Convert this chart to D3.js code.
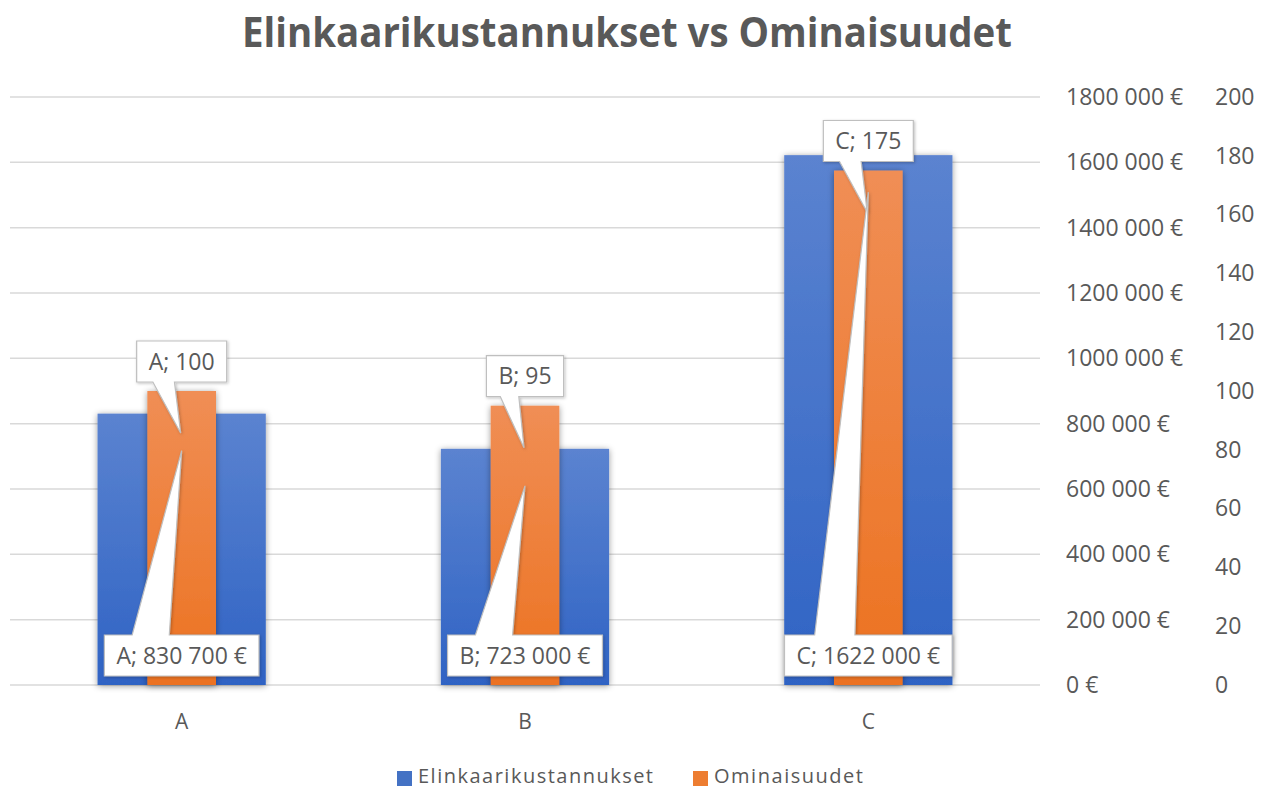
<!DOCTYPE html>
<html lang="fi">
<head>
<meta charset="UTF-8">
<title>Elinkaarikustannukset vs Ominaisuudet</title>
<style>
  body { margin: 0; background: #fff; }
  svg text { font-family: "Open Sans", "Noto Sans", sans-serif; fill: #595959; }
</style>
</head>
<body>
<svg id="chart" width="1268" height="789"></svg>
<script src="https://d3js.org/d3.v7.min.js"></script>
<script>
// data
var categories = ['A', 'B', 'C']
var costs = [830700, 723000, 1622000]        // Elinkaarikustannukset
var features = [100, 95, 175]                // Ominaisuudet
var costTicks = [0, 200000, 400000, 600000, 800000, 1000000, 1200000, 1400000, 1600000, 1800000]
var featureTicks = [0, 20, 40, 60, 80, 100, 120, 140, 160, 180, 200]
var seriesNames = ['Elinkaarikustannukset', 'Ominaisuudet']

var plot = {left: 10, right: 1040, top: 97, bottom: 685}

function fmtEur (v) {
  if (v === 0) return '0 €'
  var k = Math.floor(v / 1000), r = v % 1000
  return k + ' ' + String(r).padStart(3, '0') + ' €'
}

var svg = d3.select('#chart')
var defs = svg.append('defs')

function gradient (id, top, bottom) {
  var g = defs.append('linearGradient').attr('id', id)
    .attr('x1', 0).attr('y1', 0).attr('x2', 0).attr('y2', 1)
  g.append('stop').attr('offset', '0%').attr('stop-color', top)
  g.append('stop').attr('offset', '100%').attr('stop-color', bottom)
}
gradient('gBlue', '#5b83d0', '#2f63c4')
gradient('gOrange', '#f08e55', '#ec7220')

var sh = defs.append('filter').attr('id', 'shadow')
  .attr('x', '-20%').attr('y', '-20%').attr('width', '140%').attr('height', '140%')
sh.append('feDropShadow').attr('dx', 0).attr('dy', 1).attr('stdDeviation', 3)
  .attr('flood-color', '#000').attr('flood-opacity', 0.4)
var sh2 = defs.append('filter').attr('id', 'shadowSmall')
  .attr('x', '-10%').attr('y', '-20%').attr('width', '120%').attr('height', '150%')
sh2.append('feDropShadow').attr('dx', 1).attr('dy', 1).attr('stdDeviation', 1.5)
  .attr('flood-color', '#000').attr('flood-opacity', 0.25)

var x = d3.scaleBand().domain(categories).range([plot.left, plot.right])
var yCost = d3.scaleLinear().domain([0, 1800000]).range([plot.bottom, plot.top])
var yFeat = d3.scaleLinear().domain([0, 200]).range([plot.bottom, plot.top])

// title
svg.append('text')
  .attr('x', 627).attr('y', 47)
  .attr('text-anchor', 'middle')
  .attr('font-size', 42).attr('font-weight', 'bold')
  .attr('textLength', 770).attr('lengthAdjust', 'spacingAndGlyphs')
  .text('Elinkaarikustannukset vs Ominaisuudet')

// gridlines
svg.append('g').selectAll('line')
  .data(costTicks)
  .enter().append('line')
  .attr('x1', plot.left).attr('x2', plot.right)
  .attr('y1', function (d) { return yCost(d) }).attr('y2', function (d) { return yCost(d) })
  .attr('stroke', '#d9d9d9').attr('stroke-width', 1.5)

// axes on the right
var axCost = d3.axisRight(yCost).tickValues(costTicks).tickFormat(fmtEur).tickSize(0).tickPadding(0)
svg.append('g').attr('transform', 'translate(1066,0)').call(axCost)
  .call(function (g) { g.select('.domain').remove() })
  .selectAll('text').attr('font-size', 23).attr('font-family', null).attr('fill', null)

var axFeat = d3.axisRight(yFeat).tickValues(featureTicks).tickSize(0).tickPadding(0)
svg.append('g').attr('transform', 'translate(1215,0)').call(axFeat)
  .call(function (g) { g.select('.domain').remove() })
  .selectAll('text').attr('font-size', 23).attr('font-family', null).attr('fill', null)

// category labels
var axX = d3.axisBottom(x).tickSize(0).tickPadding(0)
svg.append('g').attr('transform', 'translate(0,' + (plot.bottom + 29) + ')').call(axX)
  .call(function (g) { g.select('.domain').remove() })
  .selectAll('text').attr('font-size', 21).attr('font-family', null).attr('fill', null)

// bars
var blueW = x.bandwidth() * 0.49, orangeW = x.bandwidth() * 0.2
function cx (c) { return x(c) + x.bandwidth() / 2 }

svg.append('g').selectAll('rect')
  .data(categories)
  .enter().append('rect')
  .attr('x', function (d) { return cx(d) - blueW / 2 })
  .attr('y', function (d, i) { return yCost(costs[i]) })
  .attr('width', blueW)
  .attr('height', function (d, i) { return plot.bottom - yCost(costs[i]) })
  .attr('fill', 'url(#gBlue)')
  .attr('filter', 'url(#shadow)')

svg.append('g').selectAll('rect')
  .data(categories)
  .enter().append('rect')
  .attr('x', function (d) { return cx(d) - orangeW / 2 })
  .attr('y', function (d, i) { return yFeat(features[i]) })
  .attr('width', orangeW)
  .attr('height', function (d, i) { return plot.bottom - yFeat(features[i]) })
  .attr('fill', 'url(#gOrange)')
  .attr('filter', 'url(#shadow)')

// callout labels
var labels = svg.append('g')
function callout (text, centerX, boxBottom, tipX, tipY, above) {
  var g = labels.append('g')
  var t = g.append('text').attr('font-size', 23).attr('text-anchor', 'middle').text(text)
  var tw = t.node().getComputedTextLength()
  var bw = tw + 24, bh = 41
  var l = centerX - bw / 2, r = centerX + bw / 2
  var top = boxBottom - bh, bot = boxBottom
  var b1 = l + bw * 0.18, b2 = l + bw * 0.42
  var p
  if (above) {
    p = 'M' + l + ',' + top + 'H' + r + 'V' + bot + 'H' + b2 + 'L' + tipX + ',' + tipY +
        'L' + b1 + ',' + bot + 'H' + l + 'Z'
  } else {
    p = 'M' + l + ',' + top + 'H' + b1 + 'L' + tipX + ',' + tipY + 'L' + b2 + ',' + top +
        'H' + r + 'V' + bot + 'H' + l + 'Z'
  }
  g.insert('path', 'text').attr('d', p)
    .attr('fill', '#fff').attr('stroke', '#bfbfbf').attr('stroke-width', 1.2)
    .attr('filter', 'url(#shadowSmall)')
  t.attr('x', centerX).attr('y', top + bh / 2 + 8)
}

categories.forEach(function (c, i) {
  var yo = yFeat(features[i])
  callout(c + '; ' + features[i], cx(c), yo - 9, cx(c) - 1, yo + 42, true)
  var yb = yCost(costs[i])
  callout(c + '; ' + fmtEur(costs[i]), cx(c), plot.bottom - 9, cx(c), yb + 37, false)
})

// legend
var legend = svg.append('g')
var legendItems = [
  {name: seriesNames[0], color: '#4472c4', x: 397, w: 235},
  {name: seriesNames[1], color: '#ed7d31', x: 693, w: 149}
]
legendItems.forEach(function (d) {
  legend.append('rect').attr('x', d.x).attr('y', 771).attr('width', 15).attr('height', 15)
    .attr('fill', d.color)
  legend.append('text').attr('x', d.x + 21).attr('y', 783).attr('font-size', 20)
    .attr('textLength', d.w).attr('lengthAdjust', 'spacing')
    .text(d.name)
})
</script>
</body>
</html>
